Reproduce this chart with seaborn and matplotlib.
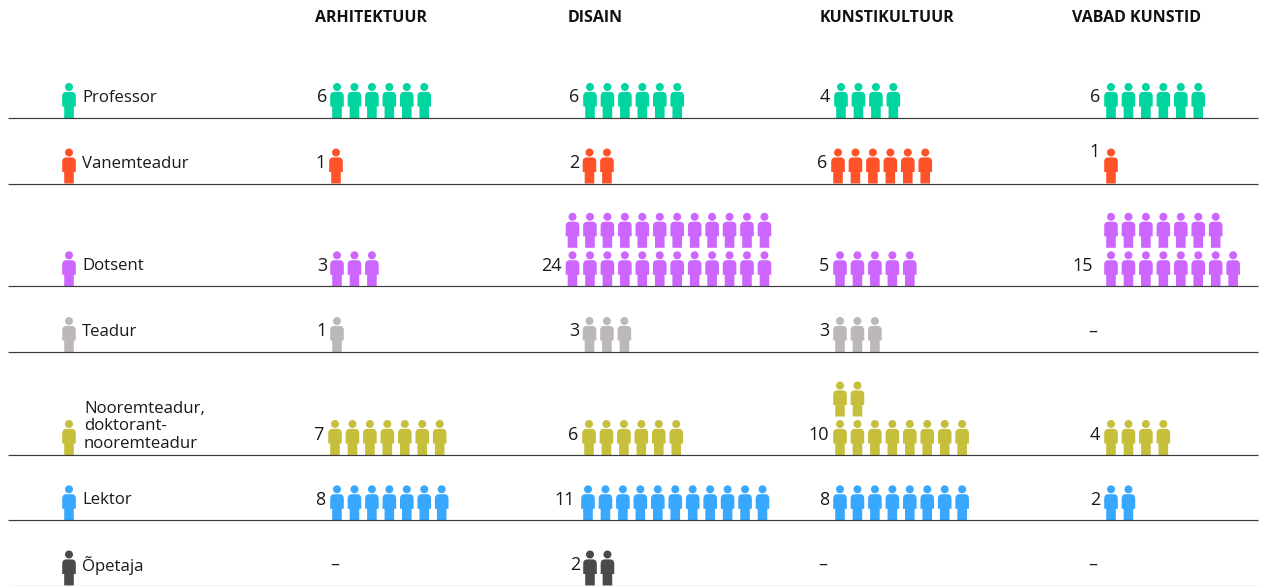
import matplotlib
matplotlib.use("Agg")
import matplotlib.pyplot as plt
from matplotlib.path import Path
import pandas as pd
import seaborn as sns

# ---- data ----
roles = ["Professor", "Vanemteadur", "Dotsent", "Teadur",
         "Nooremteadur,\ndoktorant-\nnooremteadur", "Lektor", "Õpetaja"]
fields = ["ARHITEKTUUR", "DISAIN", "KUNSTIKULTUUR", "VABAD KUNSTID"]
# printed numbers (0 is printed as a dash)
arhitektuur = [6, 1, 3, 1, 7, 8, 0]
disain = [6, 2, 24, 3, 6, 11, 2]
kunstikultuur = [4, 6, 5, 3, 10, 8, 0]
vabad_kunstid = [6, 1, 15, 0, 4, 2, 0]
# pictograms drawn: [lower row, upper row]
arhitektuur_icons = [[6], [1], [3], [1], [7], [7], []]
disain_icons = [[6], [2], [12, 12], [3], [6], [11], [2]]
kunstikultuur_icons = [[4], [6], [5], [3], [8, 2], [8], []]
vabad_kunstid_icons = [[6], [1], [8, 7], [], [4], [2], []]
values = [arhitektuur, disain, kunstikultuur, vabad_kunstid]
icons = [arhitektuur_icons, disain_icons, kunstikultuur_icons, vabad_kunstid_icons]

# ---- layout / style ----
colors = ["#00D5A0", "#FF5229", "#CC66FF", "#BDB8B8", "#C6BF3C", "#38A8FF", "#4A4A4A"]
baselines = [118, 183.5, 286.3, 352, 455, 520.3, 585.5]
icon_x0 = [[337, 336, 337, 337, 335, 337, 337],
           [590, 589.5, 572.5, 589.5, 589, 588, 590],
           [841, 838, 840, 840, 840, 840, 840],
           [1111, 1111, 1111, 1111, 1111, 1111, 1111]]
num_right = [[327, 326, 327, 327, 323, 325, 339],
             [579, 579, 562, 579, 578, 575, 580],
             [830, 827, 829, 829, 829, 829, 827],
             [1100, 1100, 1093, 1097, 1100, 1100, 1097]]
num_dy = [[0] * 7, [0] * 7, [0] * 7, [0, -11, 0, 0, 0, 0, 0]]
head_x = [315, 567.5, 819.5, 1071.5]
spacing = 17.45
stack = 38.5
icon_h = 35
legend_x = 69
label_x = [82, 82, 82, 82, 84, 82, 82]

sns.set_theme(style="white")
FONT = "Open Sans"
plt.rcParams["font.family"] = [FONT, "DejaVu Sans"]

# person glyph, y up, extent +-17.5
M, L, C, Z = Path.MOVETO, Path.LINETO, Path.CURVE3, Path.CLOSEPOLY
body_v = [(-4.8, -17.5), (-4.8, -6.0), (-6.8, -6.0), (-6.8, 4.2), (-6.8, 8.6), (-2.6, 8.6),
          (2.6, 8.6), (6.8, 8.6), (6.8, 4.2), (6.8, -6.0), (4.8, -6.0), (4.8, -17.5), (-4.8, -17.5)]
body_c = [M, L, L, L, C, C, L, C, C, L, L, L, Z]
head = Path.circle((0, 13.5), 4.0)
person = Path.make_compound_path(Path(body_v, body_c), head)

rows = []
for c, col in enumerate(icons):
    for r, layers in enumerate(col):
        for k, n in enumerate(layers):
            for i in range(n):
                rows.append({"x": icon_x0[c][r] + i * spacing,
                             "y": baselines[r] - icon_h / 2 - k * stack,
                             "role": roles[r]})
for r, role in enumerate(roles):
    rows.append({"x": legend_x, "y": baselines[r] - icon_h / 2, "role": role})
df = pd.DataFrame(rows)

fig = plt.figure(figsize=(12.63, 5.86), dpi=100, facecolor="white")
ax = fig.add_axes([0, 0, 1, 1])
sns.scatterplot(data=df, x="x", y="y", hue="role", hue_order=roles,
                palette=colors, marker=person, s=(icon_h * 0.72) ** 2,
                linewidth=0, legend=False, ax=ax, zorder=2)
ax.set_xlim(0, 1263)
ax.set_ylim(586, 0)
ax.axis("off")

for r, b in enumerate(baselines):
    ax.plot([8, 1258], [b, b], color="#9a9a9a" if r == 6 else "#3c3c3c", lw=0.85, zorder=3,
            solid_capstyle="butt")

for c, name in enumerate(fields):
    ax.text(head_x[c], 18, name, fontsize=11.5, fontweight="bold", color="#111111",
            va="center", ha="left")

for r, role in enumerate(roles):
    multi = "\n" in role
    ax.text(label_x[r], baselines[r] - (28.5 if multi else 20), role, fontsize=12.1, color="#1a1a1a",
            va="center", ha="left", linespacing=1.12)
    for c in range(4):
        v = values[c][r]
        ax.text(num_right[c][r], baselines[r] - 20.5 + num_dy[c][r], str(v) if v else "–",
                fontsize=13, color="#1a1a1a", va="center", ha="right")

fig.savefig("out.png", dpi=100, facecolor="white")
